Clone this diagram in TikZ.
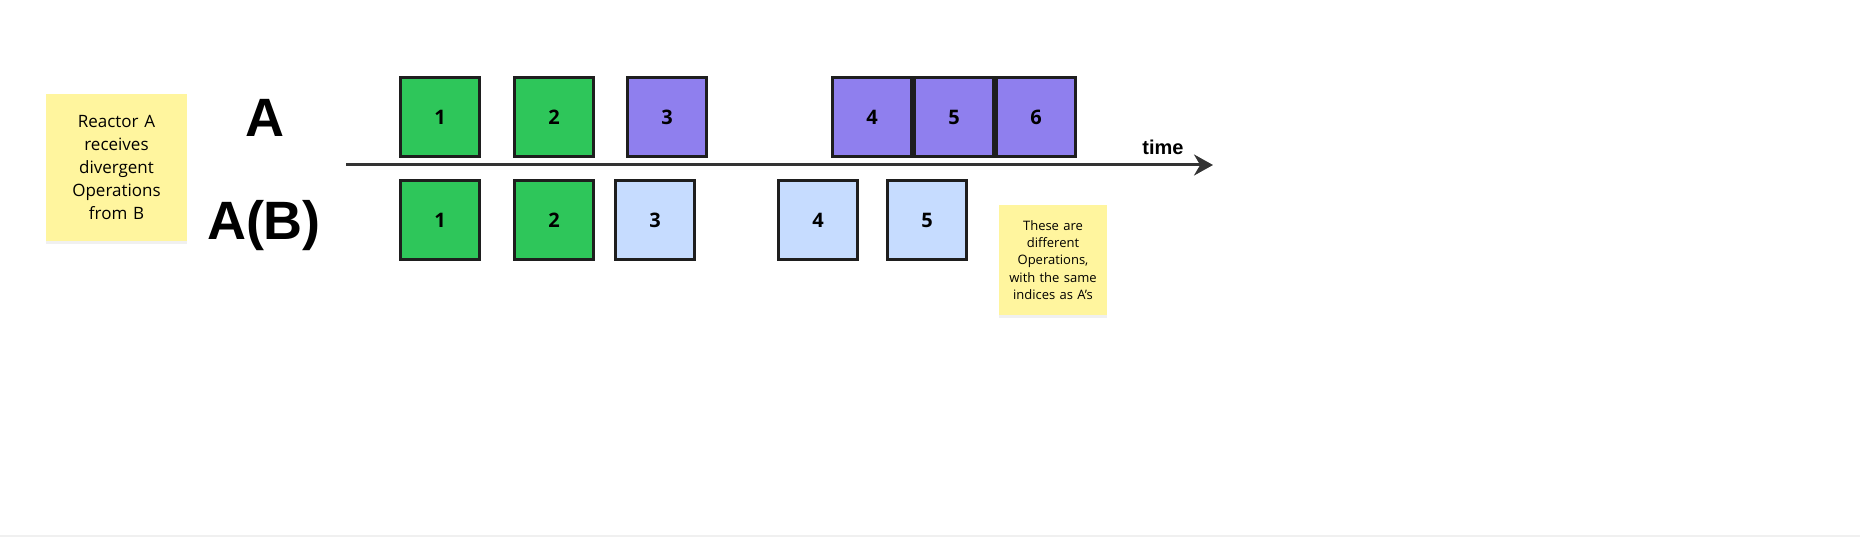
\documentclass[tikz,border=0pt]{standalone}
\usepackage{fontspec}
\setmainfont{Open Sans}
\newfontfamily\headfont{Liberation Sans}
\usetikzlibrary{positioning,shadows,arrows.meta}

\definecolor{opgreen}{HTML}{2EC65A}
\definecolor{oppurple}{HTML}{8F7FEE}
\definecolor{opblue}{HTML}{C6DCFF}
\definecolor{opline}{HTML}{1E1E1E}
\definecolor{axisgray}{HTML}{333333}
\definecolor{stickyyellow}{HTML}{FFF59E}

\begin{document}
\begin{tikzpicture}[x=1pt,y=-1pt,>={Stealth[length=19pt,width=21pt]},
    op node/.style={draw=opline,line width=3pt,minimum size=79pt,inner sep=0pt,font=\bfseries\fontsize{20}{24}\selectfont},
    done node/.style={op node,fill=opgreen},
    own node/.style={op node,fill=oppurple},
    peer node/.style={op node,fill=opblue},
    row label/.style={font=\headfont\bfseries\fontsize{54}{60}\selectfont,anchor=base,inner sep=0pt},
    sticky note/.style={fill=stickyyellow,align=center,inner sep=0pt,drop shadow={opacity=0.12,shadow xshift=0pt,shadow yshift=-3pt}}]
    \useasboundingbox (0,0) rectangle (1860,537);
    \fill[black!6] (0,535) rectangle (1860,537);

    \node[sticky note,minimum width=141pt,minimum height=147pt,text width=130pt,font=\fontsize{17}{23}\selectfont] (note1) at (116.5,167.5) {Reactor A\\ receives\\ divergent\\ Operations\\ from B};

    \node[row label] (rowA) at (265,137) {A};
    \node[row label] (rowB) at (264,240) {A(B)};

    \node[done node] (a1) at (440,117) {1};
    \node[done node] (a2) [right=32pt of a1] {2};
    \node[own node] (a3) [right=31pt of a2] {3};
    \node[own node] (a4) [right=123pt of a3] {4};
    \node[own node] (a5) [right=0pt of a4] {5};
    \node[own node] (a6) [right=0pt of a5] {6};

    \node[done node] (b1) [below=21pt of a1] {1};
    \node[done node] (b2) [below=21pt of a2] {2};
    \node[peer node] (b3) [right=19pt of b2] {3};
    \node[peer node] (b4) [right=81pt of b3] {4};
    \node[peer node] (b5) [right=27pt of b4] {5};

    \coordinate (t0) at (346,165);
    \coordinate (t1) at (1213,165);
    \draw[->,draw=axisgray,line width=3pt] (t0) -- (t1);
    \node[font=\headfont\bfseries\fontsize{20}{24}\selectfont,anchor=base,inner sep=0pt] (time) at (1163,155) {time};

    \node[sticky note,minimum width=108pt,minimum height=110pt,text width=100pt,font=\fontsize{13}{17.3}\selectfont] (note2) at (1053,260) {These are\\ different\\ Operations,\\ with the same\\ indices as A's};
\end{tikzpicture}
\end{document}
